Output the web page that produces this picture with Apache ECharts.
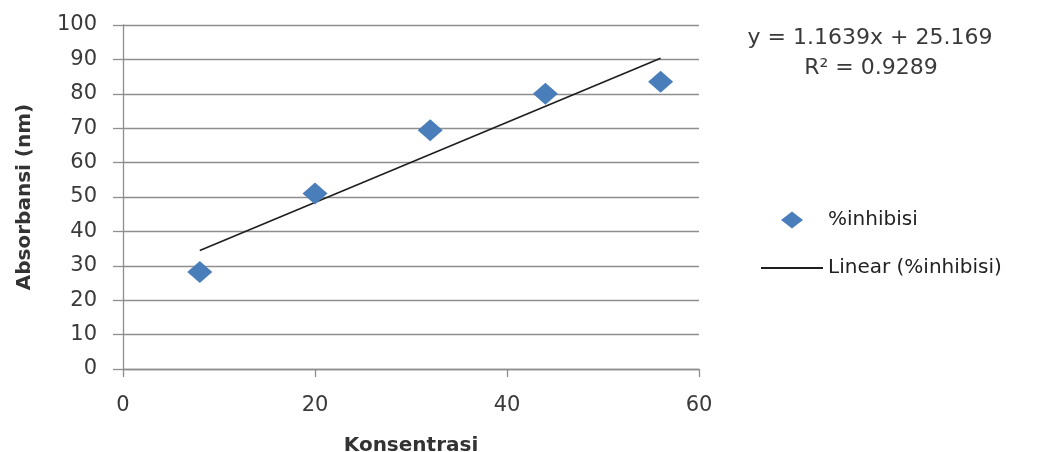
<!DOCTYPE html>
<html>
<head>
<meta charset="utf-8">
<script src="https://cdn.jsdelivr.net/npm/echarts@6/dist/echarts.min.js"></script>
<style>html,body{margin:0;padding:0;background:#fff;}#chart{width:1043px;height:452px;}</style>
</head>
<body>
<div id="chart"></div>
<script>
// ---- data ----
const xValues = [8, 20, 32, 44, 56];
const yValues = [28.2, 51.0, 69.4, 80.0, 83.5];
const seriesName = '%inhibisi';
const trendName = 'Linear (%inhibisi)';
const trendSlope = 1.1639;
const trendIntercept = 25.169;
const rSquared = 0.9289;
const xAxisTicks = [0, 20, 40, 60];
const yAxisTicks = [0, 10, 20, 30, 40, 50, 60, 70, 80, 90, 100];
const xTitle = 'Konsentrasi';
const yTitle = 'Absorbansi (nm)';

const points = xValues.map((x, i) => [x, yValues[i]]);
const xMin = Math.min(...xValues), xMax = Math.max(...xValues);
const trendPoints = [xMin, xMax].map(x => [x, trendSlope * x + trendIntercept]);
const eqText = 'y = ' + trendSlope.toFixed(4) + 'x + ' + trendIntercept.toFixed(3);
const r2Text = 'R² = ' + rSquared.toFixed(4);

const FONT = 'DejaVu Sans';
const GRID_COLOR = '#8e8e8e';
const TEXT_COLOR = '#3a3a3a';

const chart = echarts.init(document.getElementById('chart'), null, {renderer: 'canvas'});
chart.setOption({
  animation: false,
  backgroundColor: '#ffffff',
  grid: {left: 123, right: 344, top: 25, bottom: 83, containLabel: false, outerBoundsMode: 'none'},
  xAxis: {
    type: 'value',
    min: xAxisTicks[0], max: xAxisTicks[xAxisTicks.length - 1],
    interval: xAxisTicks[1] - xAxisTicks[0],
    name: xTitle, nameLocation: 'middle', nameGap: 67,
    nameTextStyle: {fontFamily: FONT, fontSize: 20, fontWeight: 'bold', color: '#333'},
    axisLine: {show: true, lineStyle: {color: GRID_COLOR, width: 1.3}},
    axisTick: {show: true, length: 8, lineStyle: {color: GRID_COLOR, width: 1.3}},
    axisLabel: {fontFamily: FONT, fontSize: 21, color: TEXT_COLOR, margin: 26},
    splitLine: {show: false}
  },
  yAxis: {
    type: 'value',
    min: yAxisTicks[0], max: yAxisTicks[yAxisTicks.length - 1],
    interval: yAxisTicks[1] - yAxisTicks[0],
    name: yTitle, nameLocation: 'middle', nameGap: 88, nameRotate: 90,
    nameTextStyle: {fontFamily: FONT, fontSize: 20, fontWeight: 'bold', color: '#333'},
    axisLine: {show: true, lineStyle: {color: GRID_COLOR, width: 1.3}},
    axisTick: {show: true, length: 10, lineStyle: {color: GRID_COLOR, width: 1.3}},
    axisLabel: {fontFamily: FONT, fontSize: 21, color: TEXT_COLOR, margin: 26},
    splitLine: {show: true, lineStyle: {color: GRID_COLOR, width: 1.3}}
  },
  legend: [
    {
      orient: 'vertical', left: 781, top: 208, padding: 0,
      itemWidth: 22, itemHeight: 17,
      textStyle: {fontFamily: FONT, fontSize: 20, color: '#222', lineHeight: 24, padding: [0, 0, 0, 20]},
      data: [{name: seriesName, icon: 'diamond'}]
    },
    {
      orient: 'vertical', left: 760, top: 256, padding: 0,
      itemWidth: 62, itemHeight: 2,
      textStyle: {fontFamily: FONT, fontSize: 20, color: '#222', lineHeight: 24},
      data: [{name: trendName}]
    }
  ],
  graphic: [
    {type: 'text', x: 870, y: 38, style: {text: eqText, align: 'center', verticalAlign: 'middle', font: '22px "DejaVu Sans"', fill: TEXT_COLOR}},
    {type: 'text', x: 871, y: 68, style: {text: r2Text, align: 'center', verticalAlign: 'middle', font: '22px "DejaVu Sans"', fill: TEXT_COLOR}}
  ],
  series: [
    {
      name: trendName, type: 'line', data: trendPoints,
      symbol: 'none', showSymbol: false, z: 2,
      lineStyle: {color: '#1e1e1e', width: 1.6},
      itemStyle: {color: '#1e1e1e'}
    },
    {
      name: seriesName, type: 'scatter', data: points,
      symbol: 'diamond', symbolSize: [25, 22], z: 3,
      itemStyle: {color: '#4a7ebb', opacity: 1}
    }
  ]
});
</script>
</body>
</html>
